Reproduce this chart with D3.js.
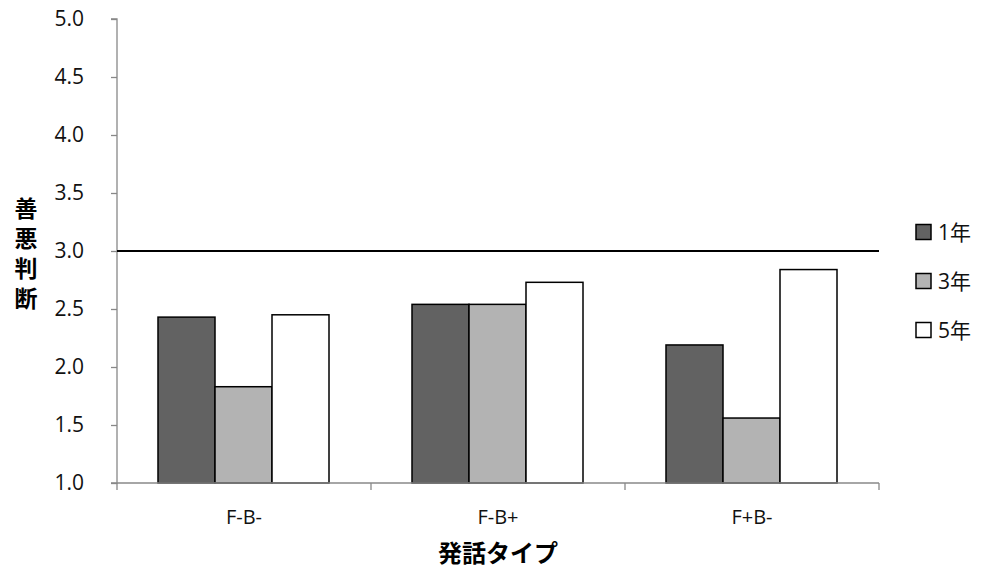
<!DOCTYPE html>
<html><head><meta charset="utf-8">
<script src="https://cdn.jsdelivr.net/npm/d3@7"></script>
<style>body{margin:0;background:#fff}svg{display:block}</style>
</head><body><svg id="c" width="985" height="579"></svg>
<script>
const categories = ["F-B-", "F-B+", "F+B-"];
const seriesNames = ["1年", "3年", "5年"];
const grade1 = [2.43, 2.54, 2.19];
const grade3 = [1.83, 2.54, 1.56];
const grade5 = [2.45, 2.73, 2.84];
const yTicks = [1.0, 1.5, 2.0, 2.5, 3.0, 3.5, 4.0, 4.5, 5.0];
const refValue = 3.0;
const yTitle = "善悪判断";
const xTitle = "発話タイプ";

(function(){
const colors = ["#626262", "#b3b3b3", "#ffffff"];
const series = [grade1, grade3, grade5];
const font = "'Open Sans','Noto Sans CJK JP',sans-serif";

const svg = d3.select("#c");
const pl = 117, pr = 879, pt = 19, pb = 483;

const x = d3.scaleBand().domain(categories).range([pl, pr]).paddingInner(0).paddingOuter(0);
const x1 = d3.scaleBand().domain(d3.range(3)).range([41, x.bandwidth() - 42]).paddingInner(0).paddingOuter(0);
const y = d3.scaleLinear().domain([1, 5]).range([pb, pt]);

// bars
categories.forEach((c, i) => {
  const g = svg.append("g").attr("transform", `translate(${x(c)},0)`);
  series.forEach((s, k) => {
    g.append("rect")
      .attr("x", x1(k)).attr("width", x1.bandwidth())
      .attr("y", y(s[i])).attr("height", y(1) - y(s[i]))
      .attr("fill", colors[k]).attr("stroke", "#000").attr("stroke-width", 1.5);
  });
});

// y axis
const yAxis = svg.append("g").attr("transform", `translate(${pl},0)`)
  .call(d3.axisLeft(y).tickValues(yTicks).tickFormat(d3.format(".1f")).tickSize(6).tickPadding(27));
yAxis.select(".domain").attr("stroke", "#888").attr("stroke-width", 1.3).attr("d", `M-6,${pt}H0V${pb}H-6`);
yAxis.selectAll(".tick line").attr("stroke", "#888").attr("stroke-width", 1.3);
yAxis.selectAll(".tick text").attr("font-family", font).attr("font-size", 21).attr("fill", "#111");

// x axis
const xAxis = svg.append("g").attr("transform", `translate(0,${pb})`)
  .call(d3.axisBottom(x).tickSize(0).tickPadding(27));
xAxis.select(".domain").attr("stroke", "#888").attr("stroke-width", 1.3).attr("d", `M${pl},0H${pr}`);
xAxis.selectAll(".tick text").attr("font-family", font).attr("font-size", 20).attr("fill", "#111");
const bounds = [...categories.map(c => x(c)), x(categories[categories.length-1]) + x.bandwidth()];
xAxis.selectAll(".bnd").data(bounds).enter().append("line")
  .attr("x1", d => d).attr("x2", d => d).attr("y1", 0).attr("y2", 7)
  .attr("stroke", "#888").attr("stroke-width", 1.3);

// reference line
svg.append("line").attr("x1", pl).attr("x2", pr).attr("y1", y(refValue)).attr("y2", y(refValue))
  .attr("stroke", "#000").attr("stroke-width", 2);

// y title stacked vertically (single text element)
svg.append("text")
  .attr("x", 26).attr("y", 197)
  .style("writing-mode", "vertical-rl").style("text-orientation", "upright")
  .attr("letter-spacing", 7)
  .attr("font-family", "'Noto Sans CJK JP',sans-serif")
  .attr("font-weight", "bold").attr("font-size", 23).attr("fill", "#000").text(yTitle);

// x title
svg.append("text").attr("x", 498).attr("y", 562).attr("text-anchor", "middle")
  .attr("font-family", "'Noto Sans CJK JP',sans-serif").attr("font-weight", "bold")
  .attr("font-size", 24).attr("fill", "#000").text(xTitle);

// legend
seriesNames.forEach((n, k) => {
  const cy = 232 + k * 49;
  svg.append("rect").attr("x", 916).attr("y", cy - 7.5).attr("width", 15).attr("height", 15)
    .attr("fill", colors[k]).attr("stroke", "#000").attr("stroke-width", 1.5);
  svg.append("text").attr("x", 938).attr("y", cy + 8).attr("font-family", font)
    .attr("font-size", 21).attr("fill", "#111").text(n);
});
})();
</script></body></html>
